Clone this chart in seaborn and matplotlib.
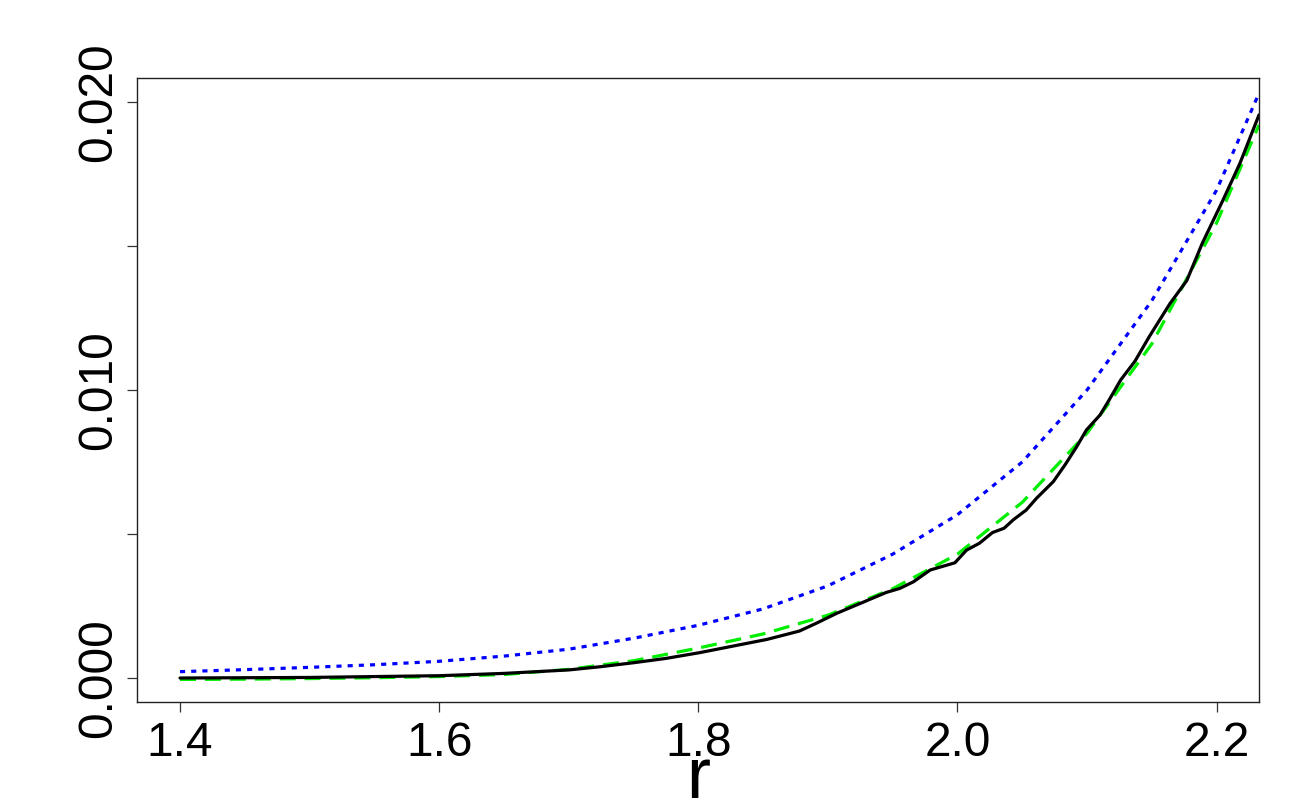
import matplotlib
matplotlib.use("Agg")
import matplotlib.pyplot as plt
import seaborn as sns
import pandas as pd

# ---- data ----
r_blue = [1.40, 1.45, 1.50, 1.55, 1.60, 1.65, 1.70, 1.75, 1.80, 1.85, 1.90, 1.95,
          2.00, 2.05, 2.10, 2.15, 2.20, 2.2327]
v_blue = [0.00022, 0.00029, 0.00037, 0.00046, 0.00058, 0.00076, 0.00100, 0.00138,
          0.00183, 0.00240, 0.00320, 0.00430, 0.00567, 0.00750, 0.01000, 0.01310,
          0.01694, 0.02030]

r_green = [1.40, 1.45, 1.50, 1.55, 1.60, 1.65, 1.70, 1.75, 1.80, 1.85, 1.90, 1.95,
           2.00, 2.05, 2.10, 2.15, 2.20, 2.2327]
v_green = [-0.00005, -0.00004, -0.00002, 0.00001, 0.00005, 0.00012, 0.00030, 0.00060,
           0.00104, 0.00153, 0.00218, 0.00310, 0.00430, 0.00610, 0.00850, 0.01160,
           0.01580, 0.01920]

r_black = [1.40, 1.45, 1.50, 1.55, 1.60, 1.65, 1.70, 1.724, 1.750, 1.775, 1.801,
           1.827, 1.853, 1.878, 1.891, 1.907, 1.925, 1.945, 1.9555, 1.966, 1.979,
           1.998, 2.007, 2.017, 2.027, 2.036, 2.043, 2.053, 2.061, 2.074, 2.083,
           2.092, 2.0995, 2.110, 2.117, 2.126, 2.137, 2.148, 2.164, 2.177, 2.189,
           2.205, 2.218, 2.2327]
v_black = [0.00000, 0.00001, 0.00002, 0.00005, 0.00008, 0.00016, 0.00028, 0.00039,
           0.00053, 0.00068, 0.00088, 0.00111, 0.00134, 0.00163, 0.00190, 0.00225,
           0.00259, 0.00297, 0.00311, 0.00334, 0.00375, 0.00400, 0.00444, 0.00468,
           0.00505, 0.00520, 0.00549, 0.00583, 0.00624, 0.00682, 0.00740, 0.00803,
           0.00861, 0.00913, 0.00965, 0.01035, 0.01100, 0.01185, 0.01300, 0.01380,
           0.01510, 0.01660, 0.01787, 0.01955]

x_ticks = [1.4, 1.6, 1.8, 2.0, 2.2]
x_tick_labels = ["1.4", "1.6", "1.8", "2.0", "2.2"]
y_ticks = [0.000, 0.005, 0.010, 0.015, 0.020]
y_tick_labels = ["0.000", "", "0.010", "", "0.020"]
x_label = "r"

df_black = pd.DataFrame({"r": r_black, "v": v_black})
df_green = pd.DataFrame({"r": r_green, "v": v_green})
df_blue = pd.DataFrame({"r": r_blue, "v": v_blue})

sns.set_theme(style="white")
plt.rcParams["font.family"] = ["Liberation Sans", "DejaVu Sans"]
plt.rcParams["text.color"] = "black"

fig = plt.figure(figsize=(13, 8), dpi=100)
ax = fig.add_axes([137 / 1300, 1 - 702 / 800, (1259 - 137) / 1300, (702 - 78) / 800])

sns.lineplot(data=df_blue, x="r", y="v", ax=ax, color="#0000ff", linewidth=2.3,
             estimator=None, sort=False)
ax.lines[-1].set_dashes([1.6, 1.9])
ax.lines[-1].set_dash_capstyle("butt")
sns.lineplot(data=df_green, x="r", y="v", ax=ax, color="#00ee00", linewidth=2.3,
             estimator=None, sort=False)
ax.lines[-1].set_dashes([5.0, 2.8])
ax.lines[-1].set_dash_capstyle("butt")
sns.lineplot(data=df_black, x="r", y="v", ax=ax, color="black", linewidth=2.3,
             estimator=None, sort=False)

ax.set_xlim(1.3668, 2.2327)
ax.set_ylim(-0.000833, 0.02083)

ax.set_xticks(x_ticks)
ax.set_xticklabels(x_tick_labels)
ax.set_yticks(y_ticks)
ax.set_yticklabels(y_tick_labels, rotation=90, va="center")

ax.tick_params(axis="both", which="both", direction="out", length=7.5, width=0.9,
               color="#333333", labelsize=34.5, labelcolor="black", bottom=True, left=True)
ax.tick_params(axis="x", pad=6)
ax.tick_params(axis="y", pad=4)

for s in ax.spines.values():
    s.set_visible(True)
    s.set_color("#222222")
    s.set_linewidth(1.0)

ax.set_xlabel("")
ax.set_ylabel("")
ax.grid(False)
fig.text(698 / 1300, 2 / 800, x_label, fontsize=52, color="black",
         ha="center", va="baseline")

fig.savefig("out.png", dpi=100, facecolor="white")
